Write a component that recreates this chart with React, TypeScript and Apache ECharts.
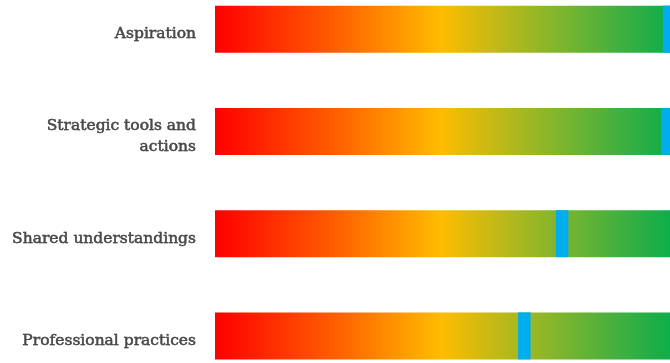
import React, { useEffect, useRef } from "react";
import * as echarts from "echarts";

const categories = [
  "Aspiration",
  "Strategic tools and\nactions",
  "Shared understandings",
  "Professional practices",
];
// full scale of each bar
const barTotals = [100, 100, 100, 100];
// position of the blue score marker along each bar
const scores = [98.5, 98.1, 75.3, 67.1];

// the label column sits a few pixels lower than the bars
const LABEL_DROP = 4;

export default function App() {
  const ref = useRef<HTMLDivElement>(null);

  useEffect(() => {
    if (!ref.current) return;
    const chart = echarts.init(ref.current, null, { renderer: "svg" });
    chart.setOption({
      animation: false,
      backgroundColor: "#ffffff",
      grid: [
        { left: 215, right: 0, top: 0, bottom: LABEL_DROP },
        { left: 215, right: 0, top: LABEL_DROP, bottom: 0 },
      ],
      xAxis: [
        { type: "value", min: 0, max: 100, show: false, gridIndex: 0 },
        { type: "value", min: 0, max: 100, show: false, gridIndex: 1 },
      ],
      yAxis: [
        {
          type: "category",
          data: categories,
          inverse: true,
          gridIndex: 0,
          axisLine: { show: false },
          axisTick: { show: false },
          axisLabel: { show: false },
        },
        {
          type: "category",
          data: categories,
          inverse: true,
          gridIndex: 1,
          axisLine: { show: false },
          axisTick: { show: false },
          axisLabel: {
            margin: 19,
            color: "#4a4a4a",
            fontFamily: "DejaVu Serif",
            fontSize: 15.5,
            lineHeight: 21,
            align: "right",
            textBorderColor: "#4a4a4a",
            textBorderWidth: 0.4,
            textShadowColor: "rgba(74,74,74,0.45)",
            textShadowBlur: 1.5,
          },
        },
      ],
      series: [
        {
          type: "bar",
          data: barTotals,
          barWidth: 47,
          silent: true,
          xAxisIndex: 0,
          yAxisIndex: 0,
          itemStyle: {
            color: new echarts.graphic.LinearGradient(0, 0, 1, 0, [
              { offset: 0, color: "#ff0000" },
              { offset: 0.25, color: "#ff5a00" },
              { offset: 0.49, color: "#ffbc00" },
              { offset: 0.66, color: "#a8b820" },
              { offset: 0.88, color: "#3fb040" },
              { offset: 1, color: "#08ad4b" },
            ]),
          },
        },
        {
          type: "scatter",
          data: scores.map((v, i) => [v, i]),
          symbol: "rect",
          symbolSize: [12.5, 47],
          silent: true,
          xAxisIndex: 0,
          yAxisIndex: 0,
          itemStyle: { color: "#00aeef", opacity: 1 },
          z: 5,
        },
      ],
    });
    return () => chart.dispose();
  }, []);

  // The plot runs a little past the visible frame, so the bars are cut at the edges.
  return (
    <div
      style={{
        position: "absolute",
        left: 0,
        top: 0,
        width: 670,
        height: 363,
        overflow: "hidden",
        background: "#ffffff",
      }}
    >
      <div
        ref={ref}
        style={{
          position: "absolute",
          left: 0,
          top: -22,
          width: 676,
          height: 409 + LABEL_DROP,
        }}
      />
    </div>
  );
}
